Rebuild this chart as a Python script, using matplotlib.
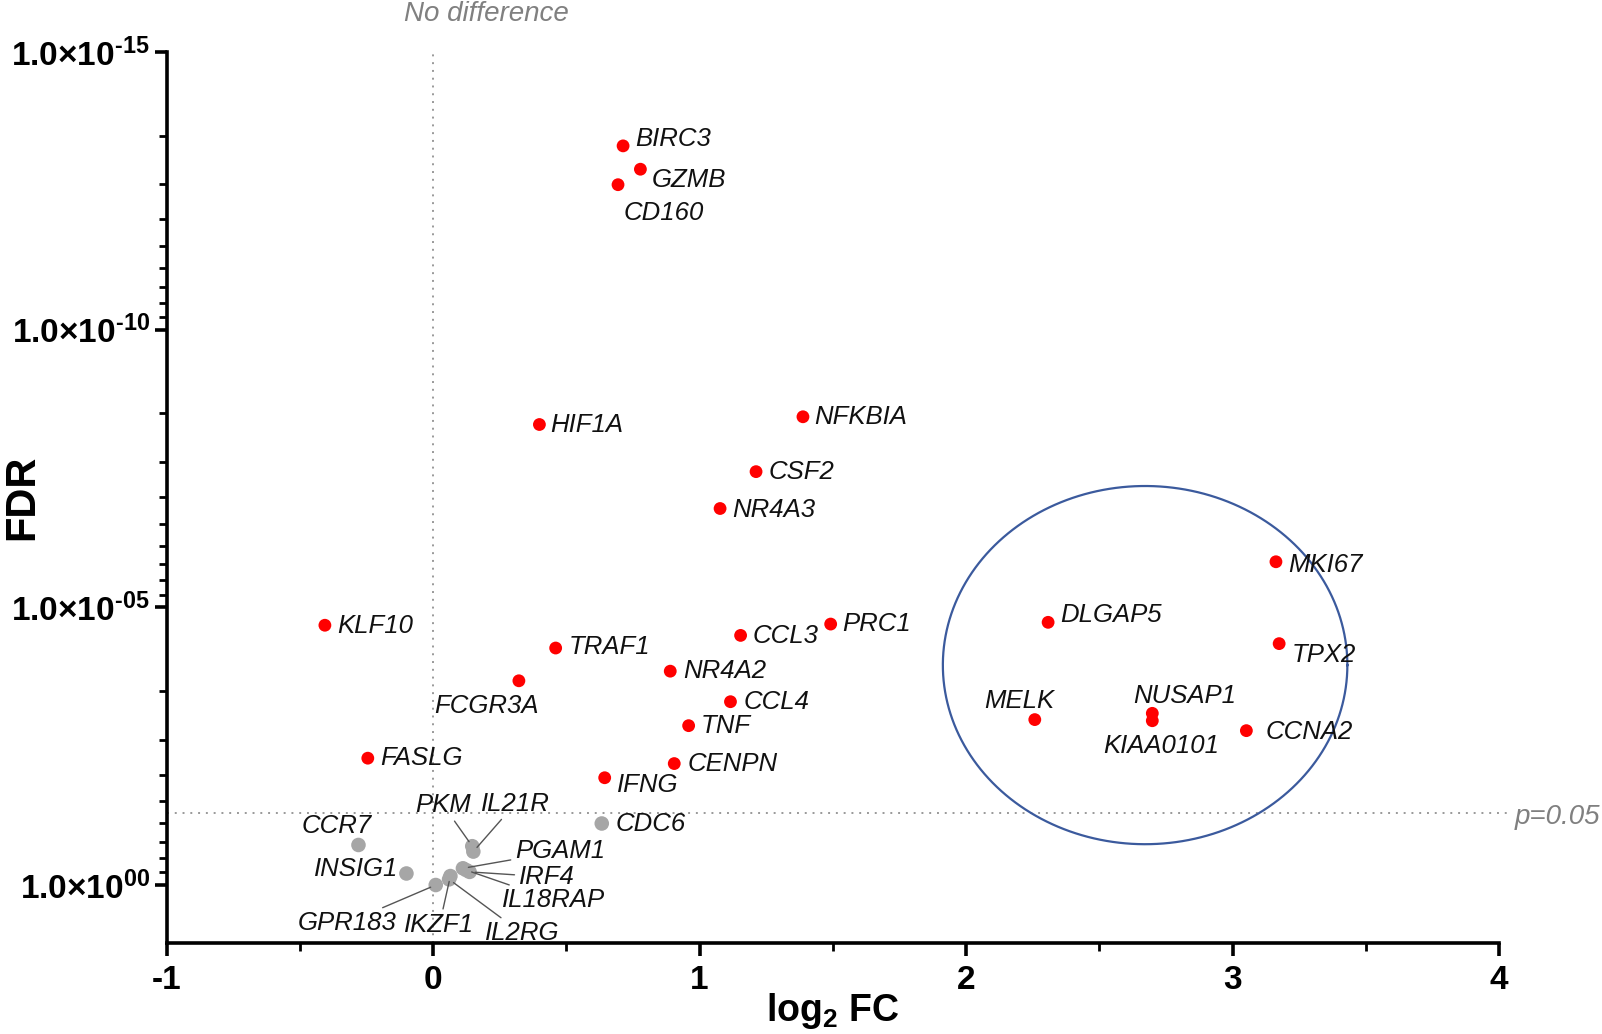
import numpy as np
import matplotlib
matplotlib.use("Agg")
import matplotlib.pyplot as plt
from matplotlib.ticker import FixedLocator, MultipleLocator, NullFormatter

plt.rcParams['font.family'] = ['Liberation Sans', 'DejaVu Sans']
plt.rcParams['mathtext.fontset'] = 'custom'
plt.rcParams['mathtext.rm'] = 'Liberation Sans'
plt.rcParams['mathtext.bf'] = 'Liberation Sans:bold'
plt.rcParams['mathtext.it'] = 'Liberation Sans:italic'

# ---------------- data ----------------
sig_genes = ["BIRC3", "GZMB", "CD160", "HIF1A", "NFKBIA", "CSF2", "NR4A3",
             "MKI67", "DLGAP5", "KLF10", "PRC1", "CCL3", "TRAF1", "TPX2",
             "NR4A2", "FCGR3A", "CCL4", "NUSAP1", "MELK", "KIAA0101", "TNF",
             "CCNA2", "FASLG", "CENPN", "IFNG"]
sig_log2fc = [0.713, 0.778, 0.694, 0.399, 1.388, 1.212, 1.077,
              3.163, 2.308, -0.406, 1.492, 1.154, 0.460, 3.175,
              0.890, 0.322, 1.116, 2.699, 2.258, 2.699, 0.959,
              3.052, -0.245, 0.905, 0.644]
sig_fdr = [4.9e-14, 1.29e-13, 2.45e-13, 5.1e-9, 3.7e-9, 3.6e-8, 1.66e-7,
           1.51e-6, 1.86e-5, 2.1e-5, 2.0e-5, 3.2e-5, 5.4e-5, 4.5e-5,
           1.41e-4, 2.1e-4, 5.0e-4, 8.1e-4, 1.05e-3, 1.1e-3, 1.35e-3,
           1.66e-3, 5.2e-3, 6.5e-3, 1.17e-2]

ns_genes = ["CDC6", "CCR7", "PKM", "IL21R", "PGAM1", "IRF4", "IL18RAP",
            "INSIG1", "IKZF1", "IL2RG", "GPR183"]
ns_log2fc = [0.633, -0.280, 0.147, 0.151, 0.112, 0.137, 0.125,
             -0.100, 0.065, 0.060, 0.010]
ns_fdr = [0.078, 0.19, 0.20, 0.25, 0.50, 0.58, 0.54,
          0.62, 0.69, 0.79, 1.0]

fdr_threshold = 0.05
y_major = [1e-15, 1e-10, 1e-5, 1e0]
y_major_labels = ["$\\mathbf{1.0{\\times}10^{\u201015}}$",
                  "$\\mathbf{1.0{\\times}10^{\u201010}}$",
                  "$\\mathbf{1.0{\\times}10^{\u201005}}$",
                  r"$\mathbf{1.0{\times}10^{00}}$"]
x_ticks = [-1, 0, 1, 2, 3, 4]

# label placement (offset in pixels, horizontal alignment, leader line)
sig_offsets = {
    "BIRC3": (12, 7, "left"), "GZMB": (11, -11, "left"), "CD160": (46, -28, "center"),
    "HIF1A": (11, 0, "left"), "NFKBIA": (11, 0, "left"), "CSF2": (13, 0, "left"),
    "NR4A3": (12, -1, "left"), "MKI67": (12, -3, "left"), "DLGAP5": (12, 7, "left"),
    "KLF10": (12, -1, "left"), "PRC1": (12, 0, "left"), "CCL3": (12, -1, "left"),
    "TRAF1": (13, 1, "left"), "TPX2": (13, -11, "left"), "NR4A2": (13, 0, "left"),
    "FCGR3A": (-32, -25, "center"), "CCL4": (13, 0, "left"), "NUSAP1": (32, 17, "center"),
    "MELK": (-16, 19, "center"), "KIAA0101": (9, -25, "center"), "TNF": (12, 0, "left"),
    "CCNA2": (19, -1, "left"), "FASLG": (12, 0, "left"), "CENPN": (13, 0, "left"),
    "IFNG": (12, -7, "left"),
}
ns_offsets = {
    "CDC6": (14, -1, "left", False), "CCR7": (-22, 19, "center", False),
    "INSIG1": (-8, 4, "right", False), "GPR183": (-89, -38, "center", True),
    "IKZF1": (-11, -49, "center", True), "PKM": (-29, 41, "center", True),
    "IL21R": (42, 48, "center", True), "PGAM1": (97, 17, "center", True),
    "IRF4": (77, -5, "center", True), "IL18RAP": (87, -30, "center", True),
    "IL2RG": (73, -54, "center", True),
}

# ---------------- figure ----------------
fig = plt.figure(figsize=(16.02, 10.34), dpi=100)
ax = fig.add_axes([0.104, 0.088, 0.8317, 0.8617])

ax.set_yscale("log")
ax.set_xlim(-1, 4)
ax.set_ylim(11.07, 1e-15)

# reference lines
ax.axvline(0, color="#999999", lw=1.4, ls=(0, (1, 3)), zorder=1)
ax.plot([-1, 4.03], [fdr_threshold, fdr_threshold], color="#999999", lw=1.4,
        ls=(0, (1, 3)), zorder=1, clip_on=False)

# ellipse around the proliferation cluster
cx, cy, rx, ry = 2.672, -3.96, 0.759, 3.225
t = np.linspace(0, 2 * np.pi, 400)
ax.plot(cx + rx * np.cos(t), 10 ** (cy + ry * np.sin(t)), color="#3B5A9D", lw=1.6, zorder=2)

# points
ax.scatter(ns_log2fc, ns_fdr, s=110, color="#A6A6A6", edgecolors="none", zorder=3)
ax.scatter(sig_log2fc, sig_fdr, s=85, color="#FF0000", edgecolors="none", zorder=4)

lab_kw = dict(fontsize=18.5, fontstyle="italic", color="#111111", va="center", zorder=5)
for g, x, y in zip(sig_genes, sig_log2fc, sig_fdr):
    dx, dy, ha = sig_offsets[g]
    ax.annotate(g, (x, y), xytext=(dx, dy), textcoords="offset pixels", ha=ha, **lab_kw)
for g, x, y in zip(ns_genes, ns_log2fc, ns_fdr):
    dx, dy, ha, line = ns_offsets[g]
    arrow = dict(arrowstyle="-", color="#555555", lw=1.0, shrinkA=1, shrinkB=4) if line else None
    ax.annotate(g, (x, y), xytext=(dx, dy), textcoords="offset pixels", ha=ha,
                arrowprops=arrow, annotation_clip=False, **lab_kw)

# axes styling
for s in ("top", "right"):
    ax.spines[s].set_visible(False)
for s in ("left", "bottom"):
    ax.spines[s].set_linewidth(2.6)
    ax.spines[s].set_color("black")

ax.yaxis.set_major_locator(FixedLocator(y_major))
ax.set_yticklabels(y_major_labels)
minor = []
for m in y_major[:-1]:
    for k in range(2, 10):
        minor.append(m * k ** 5)
ax.yaxis.set_minor_locator(FixedLocator(minor))
ax.yaxis.set_minor_formatter(NullFormatter())
ax.xaxis.set_major_locator(FixedLocator(x_ticks))
ax.set_xticklabels([str(v) for v in x_ticks])
ax.xaxis.set_minor_locator(MultipleLocator(0.5))
ax.xaxis.set_minor_formatter(NullFormatter())

ax.tick_params(axis="both", which="major", length=9, width=2.6, direction="out")
ax.tick_params(axis="both", which="minor", length=6, width=2.0, direction="out")
ax.tick_params(axis="y", which="major", labelsize=24, pad=3)
ax.tick_params(axis="x", which="major", labelsize=24, pad=7)
for lbl in ax.get_xticklabels():
    lbl.set_fontweight("bold")

ax.set_xlabel(r"$\mathbf{log_{2}\ FC}$", fontsize=27)
ax.xaxis.set_label_coords(0.5, -0.054)
ax.set_ylabel("FDR", fontsize=30, fontweight="bold")
ax.yaxis.set_label_coords(-0.093, 0.5)

fig.text(0.3035, 0.986, "No difference", fontsize=20, fontstyle="italic",
         color="#808080", ha="center", va="center")
fig.text(0.999, 0.210, "p=0.05", fontsize=20, fontstyle="italic",
         color="#808080", ha="right", va="center")

fig.savefig("out.png", dpi=100)
